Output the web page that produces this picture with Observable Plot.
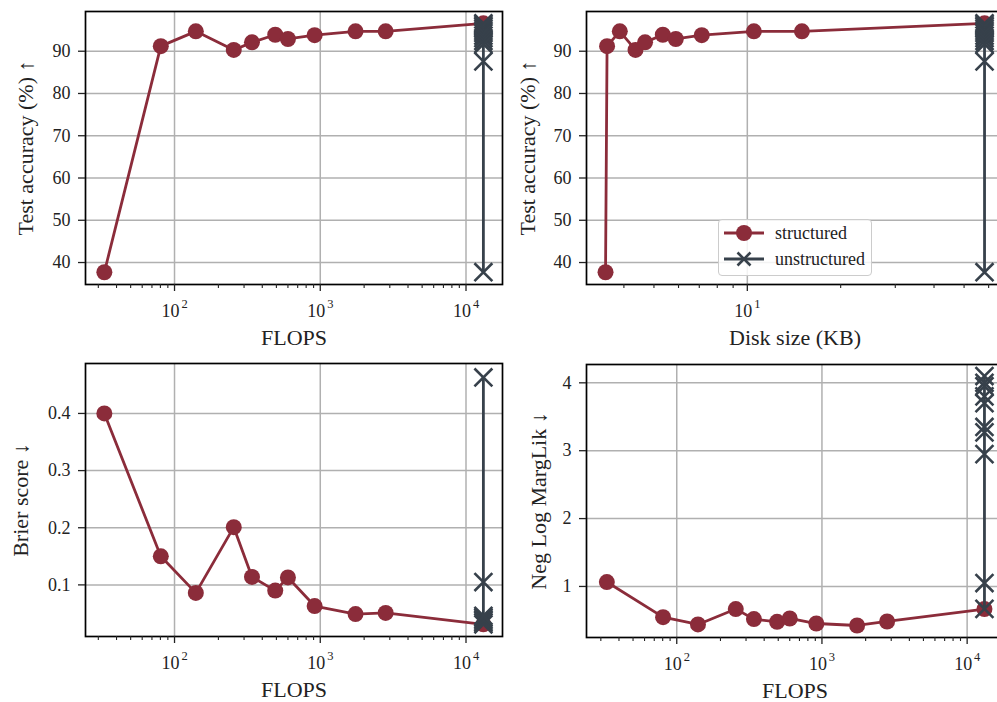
<!DOCTYPE html>
<html>
<head>
<meta charset="utf-8">
<script src="https://cdn.jsdelivr.net/npm/d3@7"></script>
<script src="https://cdn.jsdelivr.net/npm/@observablehq/plot@0.6"></script>
<style>
  html, body { margin: 0; padding: 0; width: 997px; height: 702px; overflow: hidden; background: #fff; }
  #fig { position: relative; width: 997px; height: 702px; }
  .panel { position: absolute; }
  #fig svg text { font-family: 'Liberation Serif', 'DejaVu Serif', serif !important; }
  #legend { position: absolute; left: 718px; top: 219px; width: 152px; height: 55px;
    border: 1px solid #cccccc; border-radius: 4px; background: rgba(255,255,255,0.85);
    font-family: 'Liberation Serif', 'DejaVu Serif', serif; font-size: 18px; color: #222; }
  #legend .row { position: absolute; left: 4px; height: 26px; display: flex; align-items: center; }
  #legend .row span { margin-left: 10px; }
</style>
</head>
<body>
<div id="fig"></div>
<script>
// ---- data ----
const flopsStructured = [33, 80.5, 140, 255, 340, 491, 600, 915, 1746, 2810, 13160];
const diskStructured = [3.49, 3.53, 3.88, 4.36, 4.68, 5.34, 5.88, 7.13, 10.5, 15.0, 58.2];
const accStructured = [37.7, 91.2, 94.7, 90.3, 92.1, 93.9, 92.9, 93.8, 94.7, 94.7, 96.6];
const brierStructured = [0.400, 0.150, 0.086, 0.201, 0.114, 0.090, 0.113, 0.063, 0.049, 0.051, 0.031];
const nlmlStructured = [1.065, 0.548, 0.440, 0.667, 0.519, 0.479, 0.528, 0.454, 0.425, 0.484, 0.667];

const flopsUnstructured = 13160;
const diskUnstructured = 58.2;
const accUnstructured = [96.6, 96.2, 95.8, 95.3, 94.8, 94.3, 93.7, 93.1, 92.4, 91.7, 87.6, 37.7];
const brierUnstructured = [0.031, 0.034, 0.037, 0.040, 0.043, 0.046, 0.105, 0.463];
const nlmlUnstructured = [0.67, 1.05, 2.95, 3.27, 3.35, 3.70, 3.80, 3.95, 4.00, 4.10];

// tick labels
const flopsMajor = [100, 1000, 10000];
const diskMajor = [10];
const accTicks = [40, 50, 60, 70, 80, 90];
const brierTicks = [0.1, 0.2, 0.3, 0.4];
const nlmlTicks = [1, 2, 3, 4];

const RED = "#8b2c3a";
const DARK = "#37414b";
const FONT = "'Liberation Serif', 'DejaVu Serif', serif";

function minorTicks(domain) {
  const out = [];
  for (let e = -2; e <= 6; e++) {
    for (let m = 2; m <= 9; m++) {
      const v = m * Math.pow(10, e);
      if (v >= domain[0] && v <= domain[1]) out.push(v);
    }
  }
  return out;
}

function panel(o) {
  const s = o.xs.map((x, i) => ({x, y: o.ys[i]}));
  const u = o.uy.map(y => ({x: o.ux, y}));
  const minor = minorTicks(o.xDomain);
  return Plot.plot({
    width: 510, height: 350,
    marginLeft: 85, marginRight: 8, marginTop: 11, marginBottom: 66,
    x: {type: "log", domain: o.xDomain, axis: null},
    y: {domain: o.yDomain, axis: null},
    style: {fontFamily: FONT, fontSize: "16px", color: "#222", background: "transparent", overflow: "visible"},
    marks: [
      Plot.gridX(o.xMajor, {stroke: "#b0b0b0", strokeOpacity: 1, strokeWidth: 1.5}),
      Plot.gridY(o.yTicks, {stroke: "#b0b0b0", strokeOpacity: 1, strokeWidth: 1.5}),
      Plot.line(s, {x: "x", y: "y", stroke: RED, strokeWidth: 2.8}),
      Plot.dot(s, {x: "x", y: "y", r: 8, fill: RED, stroke: null}),
      Plot.line(u, {x: "x", y: "y", stroke: DARK, strokeWidth: 2.8}),
      Plot.dot(u, {x: "x", y: "y", r: 8.2, symbol: "times", stroke: DARK, strokeWidth: 2.6}),
      Plot.frame({stroke: "#000", strokeWidth: 1.7}),
      Plot.axisX(o.xMajor, {tickSize: 7, strokeWidth: 1.3, tickFormat: () => "", label: null}),
      Plot.axisX(minor, {tickSize: 4, strokeWidth: 1.1, tickFormat: () => "", label: null}),
      Plot.text(o.xMajor, {x: d => d, text: () => "10", frameAnchor: "bottom", lineAnchor: "middle", textAnchor: "middle",
        dy: 27, dx: -4, fontSize: 18, fontFamily: FONT}),
      Plot.text(o.xMajor, {x: d => d, text: d => String(Math.round(Math.log10(d))), frameAnchor: "bottom", lineAnchor: "middle", textAnchor: "middle",
        dy: 19, dx: 10, fontSize: 12.5, fontFamily: FONT}),
      Plot.axisY(o.yTicks, {tickSize: 7, strokeWidth: 1.3, tickPadding: 8, fontSize: 18, fontFamily: FONT, label: null, tickFormat: o.yFormat}),
      Plot.text([o.xLabel], {frameAnchor: "bottom", lineAnchor: "middle", textAnchor: "middle", dy: 53, fontSize: 22, fontFamily: FONT, text: d => d}),
      Plot.text([o.yLabel], {frameAnchor: "left", lineAnchor: "middle", textAnchor: "middle", dx: o.yLabelDx, rotate: -90, fontSize: 22, fontFamily: FONT, text: d => d})
    ]
  });
}

const flopsDomain = [24.5, 17800];
const diskDomain = [3.03, 67.0];

const panels = [
  {left: 0, top: 0, xs: flopsStructured, ys: accStructured, ux: flopsUnstructured, uy: accUnstructured,
   xDomain: flopsDomain, yDomain: [34.8, 99.4], xMajor: flopsMajor, yTicks: accTicks, yFormat: d3.format("d"),
   xLabel: "FLOPS", yLabel: "Test accuracy (%) ↑", yLabelDx: -60},
  {left: 501, top: 0, xs: diskStructured, ys: accStructured, ux: diskUnstructured, uy: accUnstructured,
   xDomain: diskDomain, yDomain: [34.8, 99.4], xMajor: diskMajor, yTicks: accTicks, yFormat: d3.format("d"),
   xLabel: "Disk size (KB)", yLabel: "Test accuracy (%) ↑", yLabelDx: -59},
  {left: 0, top: 352, xs: flopsStructured, ys: brierStructured, ux: flopsUnstructured, uy: brierUnstructured,
   xDomain: flopsDomain, yDomain: [0.0097, 0.4874], xMajor: flopsMajor, yTicks: brierTicks, yFormat: d3.format(".1f"),
   xLabel: "FLOPS", yLabel: "Brier score ↓", yLabelDx: -65},
  {left: 501, top: 353, xs: flopsStructured, ys: nlmlStructured, ux: flopsUnstructured, uy: nlmlUnstructured,
   xDomain: [23.9, 17800], yDomain: [0.248, 4.27], xMajor: flopsMajor, yTicks: nlmlTicks, yFormat: d3.format("d"),
   xLabel: "FLOPS", yLabel: "Neg Log MargLik ↓", yLabelDx: -48}
];

const fig = document.getElementById("fig");
for (const p of panels) {
  const el = panel(p);
  el.classList.add("panel");
  el.style.left = p.left + "px";
  el.style.top = p.top + "px";
  fig.appendChild(el);
}

// legend (overlay on top-right panel)
const legend = document.createElement("div");
legend.id = "legend";
legend.innerHTML = `
  <div class="row" style="top:0px">
    <svg width="42" height="26"><line x1="1" x2="41" y1="13" y2="13" stroke="${RED}" stroke-width="2.8"/><circle cx="21" cy="13" r="8" fill="${RED}"/></svg>
    <span>structured</span></div>
  <div class="row" style="top:26px">
    <svg width="42" height="26"><line x1="1" x2="41" y1="13" y2="13" stroke="${DARK}" stroke-width="2.8"/><path d="M14.5,6.5L27.5,19.5M14.5,19.5L27.5,6.5" stroke="${DARK}" stroke-width="2.6" fill="none"/></svg>
    <span>unstructured</span></div>`;
fig.appendChild(legend);
</script>
</body>
</html>
